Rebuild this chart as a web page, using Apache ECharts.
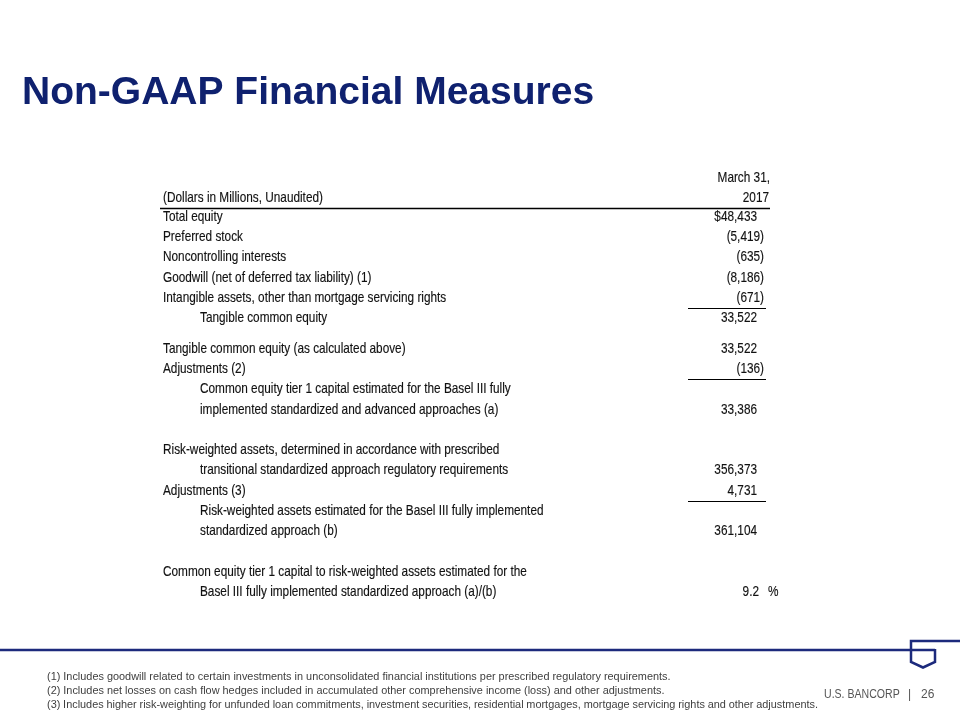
<!DOCTYPE html>
<html><head><meta charset="utf-8">
<script src="https://cdn.jsdelivr.net/npm/echarts@6/dist/echarts.min.js"></script>
<style>html,body{margin:0;padding:0;background:#fff}#chart{width:960px;height:720px}</style>
</head><body><div id="chart"></div>
<script>
// ---- data ----
const slideTitle = 'Non-GAAP Financial Measures';
const columnHeader = ['March 31,', '2017'];
const unitLabel = '(Dollars in Millions, Unaudited)';
const rowLabels = [
  'Total equity',
  'Preferred stock',
  'Noncontrolling interests',
  'Goodwill (net of deferred tax liability) (1)',
  'Intangible assets, other than mortgage servicing rights',
  'Tangible common equity',
  'Tangible common equity (as calculated above)',
  'Adjustments (2)',
  'Common equity tier 1 capital estimated for the Basel III fully',
  'implemented standardized and advanced approaches (a)',
  '',
  'Risk-weighted assets, determined in accordance with prescribed',
  'transitional standardized approach regulatory requirements',
  'Adjustments (3)',
  'Risk-weighted assets estimated for the Basel III fully implemented',
  'standardized approach (b)',
  '',
  'Common equity tier 1 capital to risk-weighted assets estimated for the',
  'Basel III fully implemented standardized approach (a)/(b)'
];
const rowIndent = [0,0,0,0,0,1,0,0,1,1,0,0,1,0,1,1,0,0,1];
const rowValues = [48433,-5419,-635,-8186,-671,33522,33522,-136,null,33386,null,null,356373,4731,null,361104,null,null,9.2];
const rowUnits  = ['$','','','','','','','','','','','','','','','','','','%'];
const ruleBeforeRows = [5, 8, 14];
const footnotes = [
  '(1) Includes goodwill related to certain investments in unconsolidated financial institutions per prescribed regulatory requirements.',
  '(2) Includes net losses on cash flow hedges included in accumulated other comprehensive income (loss) and other adjustments.',
  '(3) Includes higher risk-weighting for unfunded loan commitments, investment securities, residential mortgages, mortgage servicing rights and other adjustments.'
];
const footerBrand = 'U.S. BANCORP';
const pageNumber = '26';

// ---- layout / style ----
const SANS = "'Liberation Sans',Arial,sans-serif";
const NAVY = '#0f216f';
const LOGO = '#1c2a7c';
const TXT = '#111111';
const tableFont = '14.3px ' + SANS;
const SQ = 0.825; // horizontal condensing of table text
const rowY = i => 217 + i * 20.25 + (i >= 6 ? 10.5 : 0);

function fmt(v, unit) {
  const s = Math.abs(v).toLocaleString('en-US', {minimumFractionDigits: unit === '%' ? 1 : 0});
  if (v < 0) return '(' + s + ')';
  return (unit === '$' ? '$' : '') + s;
}

const g = [];
function text(t, x, y, font, fill, align, sx, heavy) {
  const style = {text: t, font: font, fill: fill, align: align || 'left', verticalAlign: 'middle'};
  if (heavy) { style.stroke = fill; style.lineWidth = heavy; }
  g.push({type: 'text', x: x, y: y, scaleX: sx || 1, silent: true, style: style});
}
function line(x1, y1, x2, y2, color, w) {
  g.push({type: 'line', silent: true, shape: {x1, y1, x2, y2}, style: {stroke: color, lineWidth: w}});
}

// title
text(slideTitle, 22, 93, 'bold 39px ' + SANS, NAVY);

// header
const HW = 0.15;
text(columnHeader[0], 770, 178, tableFont, TXT, 'right', SQ, HW);
text(columnHeader[1], 769, 198, tableFont, TXT, 'right', SQ, HW);
text(unitLabel, 163, 198, tableFont, TXT, 'left', SQ, HW);
line(160, 208.5, 770, 208.5, '#000', 1.5);

rowLabels.forEach((lab, i) => {
  const y = rowY(i);
  if (lab) text(lab, rowIndent[i] ? 200 : 163, y, tableFont, TXT, 'left', SQ, HW);
  const v = rowValues[i];
  if (v !== null) {
    const u = rowUnits[i];
    if (u === '%') {
      text(fmt(v, u), 759, y, tableFont, TXT, 'right', SQ, HW);
      text('%', 768, y, tableFont, TXT, 'left', SQ, HW);
    } else {
      text(fmt(v, u), v < 0 ? 764 : 757, y, tableFont, TXT, 'right', SQ, HW);
    }
  }
});
ruleBeforeRows.forEach(i => {
  const y = Math.round((rowY(i - 1) + rowY(i)) / 2) + 0.5;
  line(688, y, 766, y, '#000', 1.2);
});

// bottom rule and logo
line(0, 650, 935, 650, LOGO, 2.5);
g.push({type: 'polyline', silent: true,
  shape: {points: [[960, 641], [911, 641], [911, 662], [923, 667.5], [935, 662], [935, 649]]},
  style: {stroke: LOGO, lineWidth: 2.5, fill: null, lineJoin: 'miter'}});

// footnotes
const fnFont = '10.9px ' + SANS;
const fnColor = '#404040';
const fnY = [677, 691, 705];
const ctx = document.createElement('canvas').getContext('2d');
ctx.font = fnFont;
footnotes.forEach((f, k) => {
  if (k === footnotes.length - 1) {
    // justified last footnote: spread words to right edge
    const words = f.split(' ');
    const total = words.reduce((s, w) => s + ctx.measureText(w).width, 0);
    const gap = (818 - 47 - total) / (words.length - 1);
    let x = 47;
    words.forEach(w => { text(w, x, fnY[k], fnFont, fnColor); x += ctx.measureText(w).width + gap; });
  } else {
    text(f, 47, fnY[k], fnFont, fnColor);
  }
});

// footer
const footFont = '12px ' + SANS;
text(footerBrand, 824, 695, footFont, '#555555', 'left', 0.88);
text('|', 908, 695, footFont, '#555555');
text(pageNumber, 921, 695, footFont, '#555555');

const chart = echarts.init(document.getElementById('chart'), null, {renderer: 'canvas'});
chart.setOption({backgroundColor: '#ffffff', animation: false, graphic: g});
</script>
</body></html>
